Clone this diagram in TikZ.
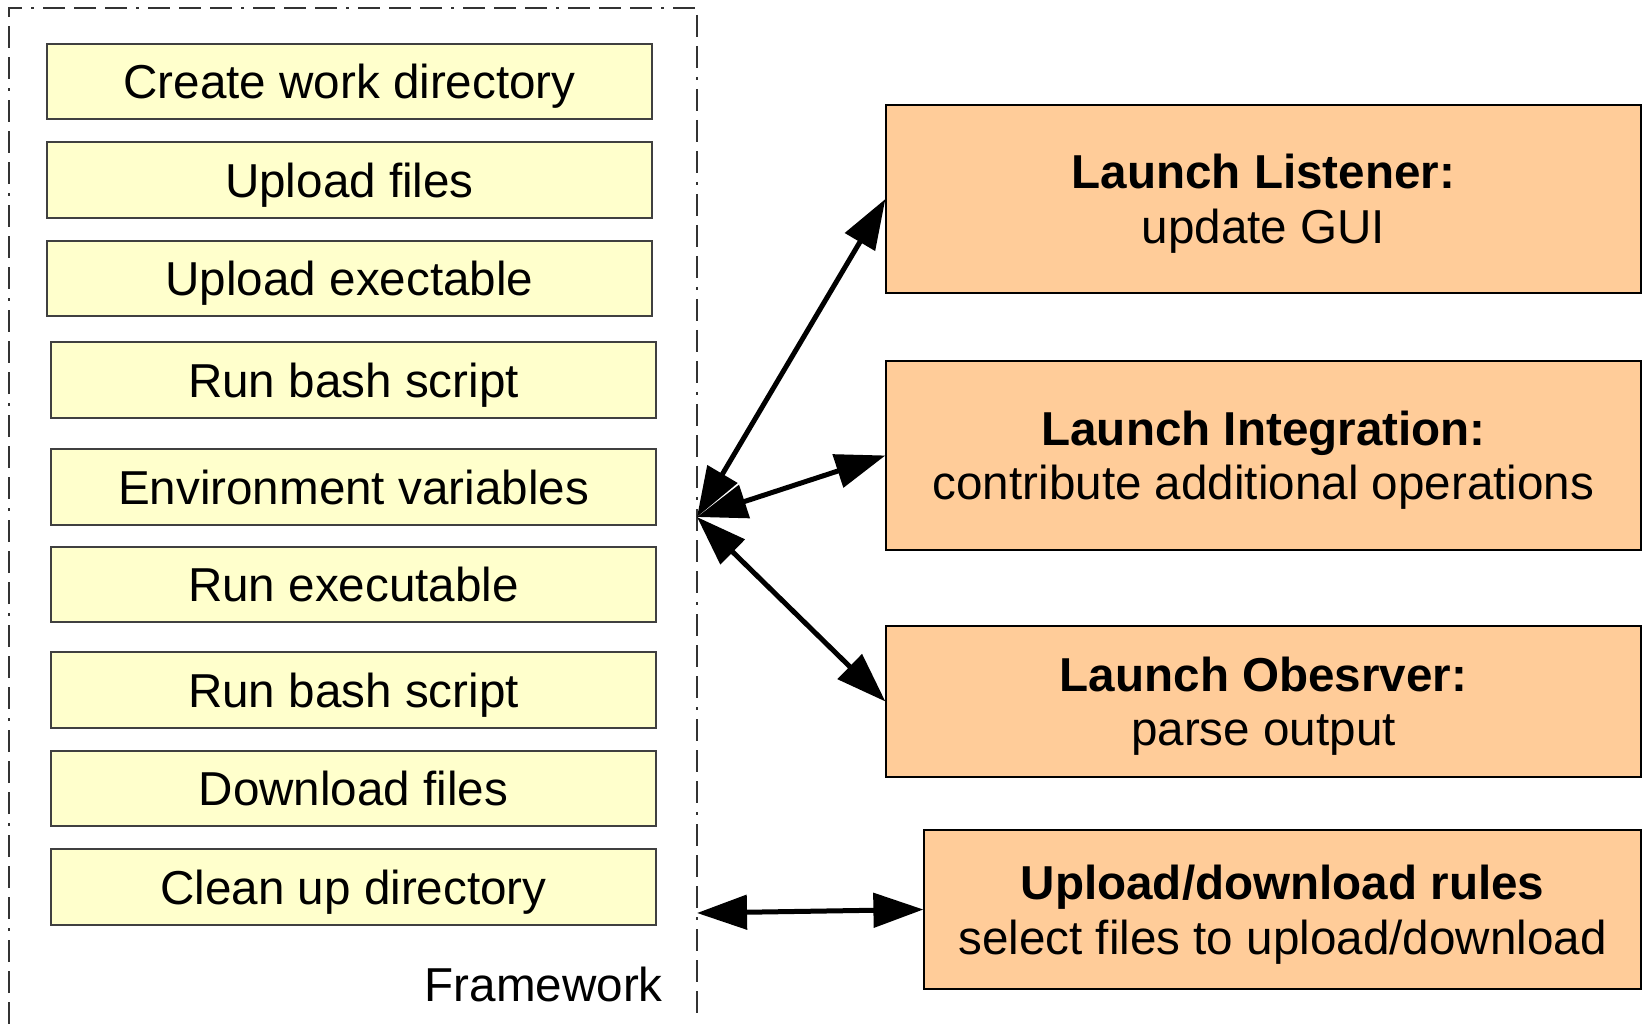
\documentclass[tikz,border=0pt]{standalone}
\usepackage{fontspec}
\setmainfont{Liberation Sans}
\usetikzlibrary{arrows.meta}

\definecolor{stepfill}{HTML}{FFFFCC}
\definecolor{hookfill}{HTML}{FFCC99}

\begin{document}
\begin{tikzpicture}[x=1pt, y=-1pt,
                every node/.style={font=\fontsize{47.6}{54.5}\selectfont, inner sep=0pt},
                stepbox/.style={draw=black!75, line width=1.5pt, fill=stepfill, minimum width=605pt, text depth=0pt},
                hookbox/.style={draw=black, line width=1.2pt, fill=hookfill, align=center, text depth=0pt},
                link_style/.style={line width=5pt, {Triangle[length=50pt,width=34pt]}-{Triangle[length=50pt,width=34pt]}}]
                \useasboundingbox (0, 0) rectangle (1642, 1024);
                % framework frame, open at the bottom
                \draw[black!80, line width=1.5pt, dash pattern=on 22pt off 9pt on 22pt off 9pt on 22pt off 9pt on 3pt off 9pt]
                    (9, 1024) -- (9, 8) -- (697, 8) -- (697, 1017);
                \node[anchor=east] (fw) at (663, 984) {Framework};
                % steps
                \node[stepbox, minimum height=75pt] (s1) at (349.5, 81.5) {Create work directory};
                \node[stepbox, minimum height=76pt] (s2) at (349.5, 180) {Upload files};
                \node[stepbox, minimum height=75pt] (s3) at (349.5, 278.5) {Upload exectable};
                \node[stepbox, minimum height=76pt] (s4) at (353.5, 380) {Run bash script};
                \node[stepbox, minimum height=76pt] (s5) at (353.5, 487) {Environment variables};
                \node[stepbox, minimum height=75pt] (s6) at (353.5, 584.5) {Run executable};
                \node[stepbox, minimum height=76pt] (s7) at (353.5, 690) {Run bash script};
                \node[stepbox, minimum height=75pt] (s8) at (353.5, 788.5) {Download files};
                \node[stepbox, minimum height=76pt] (s9) at (353.5, 887) {Clean up directory};
                % hooks
                \node[hookbox, minimum width=755pt, minimum height=188pt] (listener) at (1263.5, 199)
                    {\textbf{Launch Listener:}\\update GUI};
                \node[hookbox, minimum width=755pt, minimum height=189pt] (integration) at (1263.5, 455.5)
                    {\textbf{Launch Integration:}\\contribute additional operations};
                \node[hookbox, minimum width=755pt, minimum height=151pt] (observer) at (1263.5, 701.5)
                    {\textbf{Launch Obesrver:}\\parse output};
                \node[hookbox, minimum width=717pt, minimum height=159pt] (rules) at (1282.5, 909.5)
                    {\textbf{Upload/download rules}\\select files to upload/download};
                \coordinate (hub) at (697, 517);
                \coordinate (fwend) at (697, 913);
                \draw[link_style] (hub) -- (listener.west);
                \draw[link_style] (hub) -- (integration.west);
                \draw[link_style] (hub) -- (observer.west);
                \draw[link_style] (fwend) -- (rules.west);
            \end{tikzpicture}
\end{document}
